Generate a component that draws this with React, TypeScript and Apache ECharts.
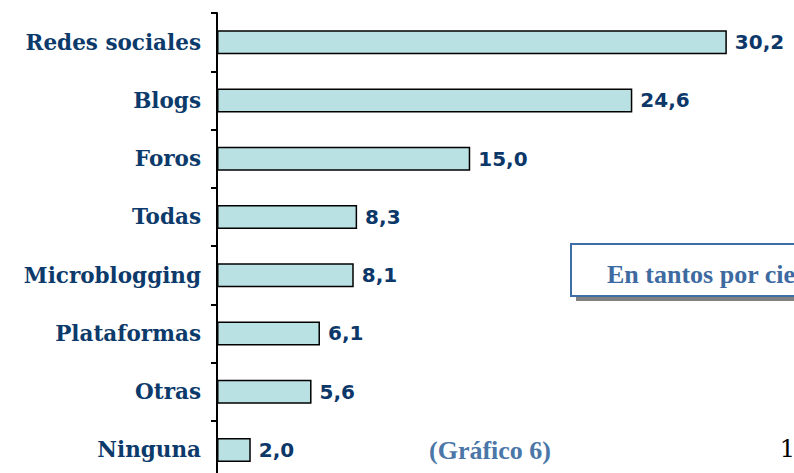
import React, { useEffect, useRef } from "react";
import * as echarts from "echarts";

const categories = ["Redes sociales", "Blogs", "Foros", "Todas", "Microblogging", "Plataformas", "Otras", "Ninguna"];
const values = [30.2, 24.6, 15.0, 8.3, 8.1, 6.1, 5.6, 2.0];
const boxText = "En tantos por ciento";
const captionText = "(Gráfico 6)";
const pageNumber = "1";

export default function App() {
  const ref = useRef<HTMLDivElement>(null);
  useEffect(() => {
    if (!ref.current) return;
    const chart = echarts.init(ref.current, undefined, { renderer: "svg" });
    chart.setOption({
      animation: false,
      backgroundColor: "#ffffff",
      grid: { left: 217, top: 13, right: 3, height: 466, containLabel: false },
      xAxis: {
        type: "value",
        min: 0,
        max: 34,
        show: false,
      },
      yAxis: {
        type: "category",
        data: categories,
        inverse: true,
        axisLine: { show: true, lineStyle: { color: "#000000", width: 2 } },
        axisTick: { show: true, inside: false, length: 6, lineStyle: { color: "#000000", width: 2 } },
        axisLabel: {
          margin: 16,
          color: "#0c3a6b",
          fontFamily: "DejaVu Serif",
          fontWeight: "bold",
          fontSize: 21.5,
        },
        splitLine: { show: false },
      },
      series: [
        {
          type: "bar",
          data: values,
          barWidth: 24,
          itemStyle: { color: "#b9e0e2", borderColor: "#000000", borderWidth: 1.5 },
          label: {
            show: true,
            position: "right",
            distance: 8,
            color: "#0c3769",
            fontFamily: "DejaVu Sans",
            fontWeight: "bold",
            fontSize: 20,
            formatter: (p: any) => p.value.toFixed(1).replace(".", ","),
          },
        },
      ],
      graphic: [
        { type: "rect", shape: { x: 576, y: 249, width: 300, height: 52 }, style: { fill: "#808080" }, z: 10 },
        {
          type: "rect",
          shape: { x: 571, y: 244, width: 300, height: 52 },
          style: { fill: "#ffffff", stroke: "#3d6ea5", lineWidth: 2 },
          z: 11,
        },
        {
          type: "text",
          x: 607,
          y: 274,
          style: {
            text: boxText,
            fill: "#3d6aa0",
            fontFamily: "Liberation Serif",
            fontWeight: "bold",
            fontSize: 26,
            verticalAlign: "middle",
            align: "left",
          },
          z: 12,
        },
        {
          type: "text",
          x: 490,
          y: 450,
          style: {
            text: captionText,
            fill: "#4a76a8",
            fontFamily: "Liberation Serif",
            fontWeight: "bold",
            fontSize: 26,
            verticalAlign: "middle",
            align: "center",
          },
          z: 12,
        },
        {
          type: "text",
          x: 795,
          y: 449,
          style: {
            text: pageNumber,
            fill: "#000000",
            fontFamily: "DejaVu Serif",
            fontSize: 24,
            verticalAlign: "middle",
            align: "right",
          },
          z: 12,
        },
      ],
    });
    return () => chart.dispose();
  }, []);
  return <div ref={ref} style={{ position: "fixed", left: 0, top: 0, width: 794, height: 480 }} />;
}
